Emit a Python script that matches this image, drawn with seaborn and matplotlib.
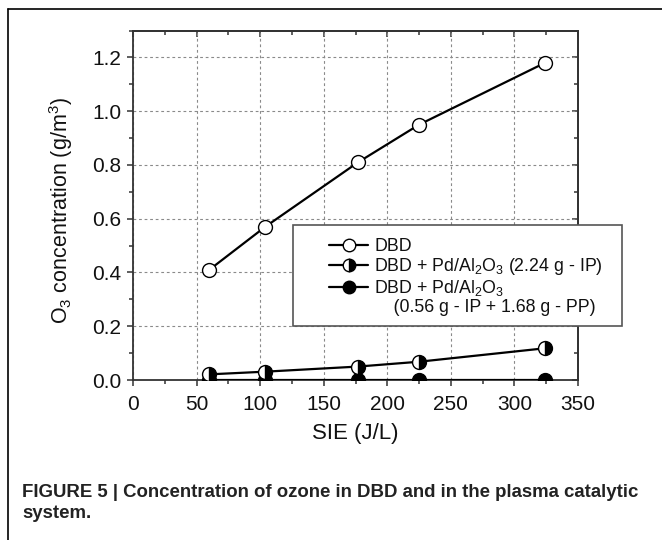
import matplotlib
matplotlib.use("Agg")
import matplotlib.pyplot as plt
from matplotlib.lines import Line2D
from matplotlib.patches import Rectangle
from matplotlib.ticker import MultipleLocator, FormatStrFormatter
import seaborn as sns
import pandas as pd

# Data
sie_dbd = [60, 104, 177, 225, 324]
o3_dbd = [0.41, 0.57, 0.81, 0.95, 1.18]
sie_ip = [60, 104, 177, 225, 324]
o3_ip = [0.021, 0.031, 0.05, 0.068, 0.118]
sie_pp = [60, 104, 177, 225, 324]
o3_pp = [0.0, 0.0, 0.0, 0.0, 0.0]

labels = ["DBD",
          "DBD + Pd/Al$_2$O$_3$ (2.24 g - IP)",
          "DBD + Pd/Al$_2$O$_3$",
          "    (0.56 g - IP + 1.68 g - PP)"]

sns.set_style("ticks")
plt.rcParams['font.family'] = ['Liberation Sans', 'DejaVu Sans']
plt.rcParams['mathtext.default'] = 'regular'

W, H = 662, 540
fig = plt.figure(figsize=(W/100, H/100), dpi=100)
ax = fig.add_axes([133/W, 1 - 380/H, 445/W, (380 - 30.6)/H])

common = dict(color="black", marker="o", markersize=10, linewidth=1.6,
              markeredgecolor="black", markeredgewidth=1.0, clip_on=True)

df_pp = pd.DataFrame({"x": sie_pp, "y": o3_pp})
df_ip = pd.DataFrame({"x": sie_ip, "y": o3_ip})
df_dbd = pd.DataFrame({"x": sie_dbd, "y": o3_dbd})

sns.lineplot(data=df_pp, x="x", y="y", ax=ax, markerfacecolor="black", zorder=3, **common)
sns.lineplot(data=df_ip, x="x", y="y", ax=ax, markerfacecolor="black", fillstyle="right",
             markerfacecoloralt="white", zorder=4, **common)
sns.lineplot(data=df_dbd, x="x", y="y", ax=ax, markerfacecolor="white", zorder=4, **common)

ax.set_xlim(0, 350)
ax.set_ylim(0, 1.3)
ax.xaxis.set_major_locator(MultipleLocator(50))
ax.xaxis.set_minor_locator(MultipleLocator(25))
ax.yaxis.set_major_locator(MultipleLocator(0.2))
ax.yaxis.set_minor_locator(MultipleLocator(0.1))
ax.yaxis.set_major_formatter(FormatStrFormatter('%.1f'))

ax.grid(True, which='major', linestyle=(0, (2.5, 2.5)), color='#8a8a8a', linewidth=0.8)
ax.set_axisbelow(True)

for side in ['left', 'bottom', 'top', 'right']:
    ax.spines[side].set_visible(True)
    ax.spines[side].set_color('#333333')
    ax.spines[side].set_linewidth(1.3)

ax.tick_params(which='major', direction='out', length=4.5, width=1.1, color='#333333',
               labelsize=15, labelcolor='#111111', pad=4)
ax.tick_params(axis='x', which='major', pad=6)
ax.tick_params(which='minor', direction='out', length=3, width=1.1, color='#333333')

# mirrored ticks on top/right pointing inwards
sec_x = ax.secondary_xaxis('top')
sec_x.xaxis.set_major_locator(MultipleLocator(50))
sec_x.xaxis.set_minor_locator(MultipleLocator(25))
sec_x.tick_params(which='major', direction='in', length=4.5, width=1.1, color='#333333', labeltop=False)
sec_x.tick_params(which='minor', direction='in', length=3, width=1.1, color='#333333')
sec_x.spines['top'].set_linewidth(1.3)
sec_x.spines['top'].set_color('#333333')
sec_y = ax.secondary_yaxis('right')
sec_y.yaxis.set_major_locator(MultipleLocator(0.2))
sec_y.yaxis.set_minor_locator(MultipleLocator(0.1))
sec_y.tick_params(which='major', direction='in', length=4.5, width=1.1, color='#333333', labelright=False)
sec_y.tick_params(which='minor', direction='in', length=3, width=1.1, color='#333333')
sec_y.spines['right'].set_linewidth(1.3)
sec_y.spines['right'].set_color('#333333')

ax.set_xlabel("SIE (J/L)", fontsize=16, color='#111111', labelpad=7)
ax.set_ylabel("O$_3$ concentration (g/m$^3$)", fontsize=15.5, color='#111111')
ax.yaxis.set_label_coords(-0.13, 0.485)

# legend: frame drawn separately so its padding matches the original
ax.add_patch(Rectangle((293/W, 1 - 326/H), (622 - 293)/W, (326 - 225)/H,
                       transform=fig.transFigure, facecolor='white', edgecolor='#555555',
                       linewidth=1.2, clip_on=False, zorder=4.5))

h_dbd = Line2D([], [], color='black', marker='o', markersize=9, linewidth=1.6,
               markerfacecolor='white', markeredgecolor='black')
h_ip = Line2D([], [], color='black', marker='o', markersize=9, linewidth=1.6,
              markerfacecolor='black', fillstyle='right', markerfacecoloralt='white',
              markeredgecolor='black')
h_pp = Line2D([], [], color='black', marker='o', markersize=9, linewidth=1.6,
              markerfacecolor='black', markeredgecolor='black')
h_blank = Line2D([], [], color='none')
leg = ax.legend([h_dbd, h_ip, h_pp, h_blank], labels, loc='upper left',
                bbox_to_anchor=(329/W, 1 - 238/H), bbox_transform=fig.transFigure,
                fontsize=12.8, frameon=False, handlelength=2.2, handletextpad=0.35,
                labelspacing=0.05, borderpad=0, borderaxespad=0)
leg.set_zorder(5)
for t in leg.get_texts():
    t.set_color('#111111')

# caption
cap_kw = dict(fontsize=13.4, fontweight='bold', color='#222222', va='baseline')
fig.text(22/W, 1 - 497/H,
         "FIGURE 5 | Concentration of ozone in DBD and in the plasma catalytic", **cap_kw)
fig.text(22/W, 1 - 518/H, "system.", **cap_kw)

# outer frame (left and top edges)
fig.add_artist(Line2D([8/W, 8/W], [0, 1 - 9/H], color='black', linewidth=1.2,
                      transform=fig.transFigure))
fig.add_artist(Line2D([8/W, 1], [1 - 9/H, 1 - 9/H], color='black', linewidth=1.2,
                      transform=fig.transFigure))

fig.savefig("out.png", dpi=100)
